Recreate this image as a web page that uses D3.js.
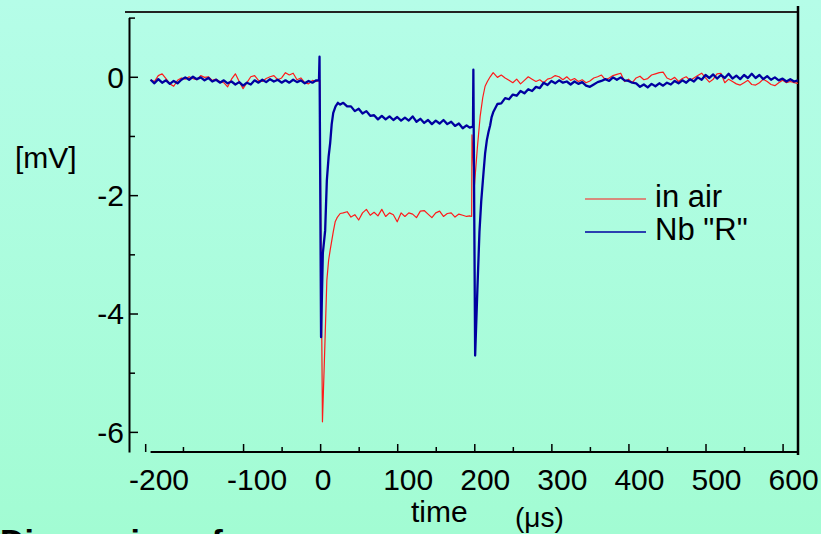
<!DOCTYPE html>
<html lang="en">
<head>
<meta charset="utf-8">
<title>Pulse response: in air vs Nb "R"</title>
<script src="https://cdn.jsdelivr.net/npm/d3@7"></script>
<style>
  body { margin: 0; }
  svg { display: block; font-family: "Liberation Sans", Arial, sans-serif; }
</style>
</head>
<body>
<script>

// sampling of the flat parts (µs)
var step = 5;
var preStart = -220, midStart = 30, postStart = 230;

// "in air" (mV)
var airPre = [-0.05, -0.08, 0.02, 0.05, -0.03, -0.12, -0.16, -0.06, -0.02, -0.04,
              0.00, -0.03, -0.05, 0.02, -0.01, 0.00, -0.06, -0.04, -0.08, -0.10,
              -0.17, -0.04, 0.05, -0.08, -0.20, -0.10, 0.00, 0.02, -0.06, -0.08,
              -0.03, 0.00, 0.02, -0.05, -0.02, 0.07, 0.03, 0.06, -0.05, -0.02,
              -0.10, -0.12, -0.06, -0.08];
var airPulse1T  = [-0.5, 3, 5.5, 8.7, 11, 13, 17, 19.5, 22, 26];
var airPulse1Mv = [-0.06, -5.83, -4.8, -3.44, -3.1, -2.93, -2.62, -2.45, -2.38, -2.31];
var airMid = [-2.30, -2.28, -2.37, -2.33, -2.42, -2.30, -2.24, -2.34, -2.29, -2.35,
              -2.24, -2.36, -2.30, -2.33, -2.45, -2.30, -2.36, -2.30, -2.32, -2.38,
              -2.27, -2.26, -2.32, -2.38, -2.30, -2.27, -2.36, -2.31, -2.30, -2.37,
              -2.32, -2.34, -2.36];
var airPulse2T  = [194, 196.6, 197.0, 200.2, 204, 207.6, 211, 214, 217, 220.6, 224.5];
var airPulse2Mv = [-2.35, -2.36, -0.98, -1.83, -1.2, -0.67, -0.35, -0.16, -0.08, 0.0, 0.07];
var airPost = [-0.01, 0.03, -0.02, -0.06, -0.10, -0.04, -0.12, -0.06, 0.00, -0.04,
               -0.08, -0.05, -0.10, -0.04, -0.02, 0.02, 0.00, -0.05, 0.00, -0.06,
               -0.03, -0.08, -0.05, -0.10, -0.07, -0.02, 0.00, 0.03, -0.05, -0.02,
               0.02, 0.04, 0.06, -0.08, -0.04, -0.10, -0.02, 0.01, -0.05, -0.03,
               0.03, 0.05, 0.07, 0.08, -0.02, -0.05, -0.01, -0.08, -0.03, 0.00,
               -0.06, -0.02, 0.02, 0.06, -0.02, -0.09, -0.04, 0.05, 0.06, -0.10,
               -0.04, -0.08, -0.12, -0.14, -0.10, -0.06, -0.13, -0.14, -0.10, -0.04,
               -0.08, -0.13, -0.15, -0.10, -0.06, -0.10, -0.08, -0.10, -0.11];

// Nb "R" (mV)
var nbPre = [-0.05, -0.11, -0.04, -0.10, -0.06, -0.12, -0.07, -0.11, -0.05, -0.01,
             -0.05, 0.00, -0.04, -0.01, -0.06, -0.02, -0.08, -0.05, -0.10, -0.06,
             -0.11, -0.08, -0.13, -0.09, -0.15, -0.10, -0.13, -0.06, -0.10, -0.05,
             -0.09, -0.04, -0.08, -0.05, -0.10, -0.06, -0.10, -0.05, -0.09, -0.06,
             -0.11, -0.07, -0.10, -0.06];
var nbPulse1T  = [-1.5, -0.8, 1.2, 3.5, 6.5, 8.7, 11, 13, 15, 17, 20, 23, 26];
var nbPulse1Mv = [-0.06, 0.34, -4.4, -2.98, -2.6, -1.75, -1.35, -1.12, -0.8, -0.61, -0.5, -0.44, -0.47];
var nbMid = [-0.44, -0.50, -0.50, -0.58, -0.54, -0.62, -0.58, -0.66, -0.65, -0.72,
             -0.66, -0.72, -0.67, -0.73, -0.68, -0.74, -0.69, -0.74, -0.67, -0.76,
             -0.71, -0.78, -0.73, -0.80, -0.74, -0.79, -0.73, -0.80, -0.76, -0.83,
             -0.79, -0.87, -0.82];
var nbPulse2T  = [194, 198.3, 198.8, 201.1, 204, 206.7, 209, 211.9, 214, 216.3, 218.5, 220.6, 222.5, 224.5];
var nbPulse2Mv = [-0.86, -0.84, 0.12, -4.71, -3.6, -2.62, -2.1, -1.63, -1.3, -1.07, -0.93, -0.82, -0.68, -0.6];
var nbPost = [-0.46, -0.45, -0.36, -0.38, -0.30, -0.32, -0.24, -0.28, -0.21, -0.24,
              -0.17, -0.19, -0.10, -0.14, -0.07, -0.11, -0.06, -0.10, -0.08, -0.13,
              -0.08, -0.12, -0.09, -0.15, -0.17, -0.13, -0.09, -0.07, -0.04, -0.07,
              -0.01, -0.05, -0.01, -0.06, -0.07, -0.10, -0.11, -0.17, -0.13, -0.18,
              -0.12, -0.16, -0.11, -0.15, -0.10, -0.13, -0.07, -0.11, -0.06, -0.10,
              -0.04, -0.08, -0.01, -0.05, 0.03, -0.02, 0.04, -0.03, 0.03, -0.02,
              0.05, -0.03, 0.02, -0.04, 0.03, -0.02, 0.05, -0.02, 0.03, -0.04,
              0.01, -0.05, -0.01, -0.06, -0.03, -0.08, -0.04, -0.08, -0.06];

// axis ticks and labels
var xMajor = [-227, -100, 0, 100, 200, 300, 400, 500, 600];
var xMinor = [-178, -50, 50, 150, 250, 350, 450, 550];
var xLabels = [-200, -100, 0, 100, 200, 300, 400, 500, 600];
var yMajor = [-6, -4, -2, 0];
var yMinor = [-5, -3, -1, 1];

var w = 821, h = 534;

var x = d3.scaleLinear().domain([-248, 620]).range([129, 798]);
var y = d3.scaleLinear().domain([-6.34, 1]).range([452, 17.6]);

function buildSeries(pre, p1T, p1V, mid, p2T, p2V, post) {
    var pts = [];
    pre.forEach(function(v, i) { pts.push({t: preStart + i * step, v: v}); });
    p1T.forEach(function(t, i) { pts.push({t: t, v: p1V[i]}); });
    mid.forEach(function(v, i) { pts.push({t: midStart + i * step, v: v}); });
    p2T.forEach(function(t, i) { pts.push({t: t, v: p2V[i]}); });
    post.forEach(function(v, i) { pts.push({t: postStart + i * step, v: v}); });
    return pts;
}

var airData = buildSeries(airPre, airPulse1T, airPulse1Mv, airMid, airPulse2T, airPulse2Mv, airPost);
var nbData = buildSeries(nbPre, nbPulse1T, nbPulse1Mv, nbMid, nbPulse2T, nbPulse2Mv, nbPost);

var svg = d3.select("body").append("svg")
    .attr("width", w)
    .attr("height", h);

// background gradient
var grad = svg.append("defs").append("linearGradient")
    .attr("id", "bg")
    .attr("x1", 0).attr("y1", 0).attr("x2", 0).attr("y2", 1);
grad.append("stop").attr("offset", "0%").attr("stop-color", "#b5fde8");
grad.append("stop").attr("offset", "100%").attr("stop-color", "#a2fcd3");
svg.append("rect").attr("width", w).attr("height", h).attr("fill", "url(#bg)");

// frame pieces
svg.append("line")
    .attr("x1", 125).attr("x2", x(620)).attr("y1", 12).attr("y2", 12)
    .attr("stroke", "#222").attr("stroke-width", 2);
svg.append("line")
    .attr("x1", x(620)).attr("x2", x(620)).attr("y1", 6).attr("y2", 455)
    .attr("stroke", "#000").attr("stroke-width", 2.5);

// x axis
svg.append("line")
    .attr("x1", x(-220)).attr("x2", x(620)).attr("y1", 452).attr("y2", 452)
    .attr("stroke", "#000").attr("stroke-width", 2);

svg.append("g")
    .attr("transform", "translate(0,452)")
    .call(d3.axisBottom(x).tickValues(xMajor).tickSizeInner(-8).tickSizeOuter(0).tickFormat(""))
    .call(function(g) { g.select(".domain").remove(); })
    .selectAll("line").attr("stroke-width", 1.5);

svg.append("g")
    .attr("transform", "translate(0,452)")
    .call(d3.axisBottom(x).tickValues(xMinor).tickSizeInner(-5).tickSizeOuter(0).tickFormat(""))
    .call(function(g) { g.select(".domain").remove(); })
    .selectAll("line").attr("stroke-width", 1.5);

var labelShift = function(d) {
    if (d === -200) return -7;
    if (d === -100) return 14;
    if (d === 0) return 3;
    return 11;
};

svg.selectAll("text.xlab")
   .data(xLabels)
   .enter()
   .append("text")
   .attr("class", "xlab")
   .attr("x", function(d) { return x(d) + labelShift(d); })
   .attr("y", 490)
   .attr("text-anchor", "middle")
   .attr("font-size", "30px")
   .text(function(d) { return d; });

// y axis
var yAxisG = svg.append("g")
    .attr("transform", "translate(129,0)")
    .call(d3.axisLeft(y).tickValues(yMajor).tickSizeInner(-9).tickSizeOuter(0).tickFormat(""));
yAxisG.select(".domain").attr("stroke-width", 2);
yAxisG.selectAll(".tick line").attr("stroke-width", 1.5);

svg.append("g")
    .attr("transform", "translate(129,0)")
    .call(d3.axisLeft(y).tickValues(yMinor).tickSizeInner(-6).tickSizeOuter(0).tickFormat(""))
    .call(function(g) { g.select(".domain").remove(); })
    .selectAll("line").attr("stroke-width", 1.5);

svg.selectAll("text.ylab")
   .data(yMajor)
   .enter()
   .append("text")
   .attr("class", "ylab")
   .attr("x", 124)
   .attr("y", function(d) { return y(d); })
   .attr("dy", "0.36em")
   .attr("text-anchor", "end")
   .attr("font-size", "30px")
   .text(function(d) { return d; });

// axis titles
svg.append("text").attr("x", 15).attr("y", 168).attr("font-size", "30px").text("[mV]");
svg.append("text").attr("x", 411).attr("y", 522).attr("font-size", "30px").text("time");
svg.append("text").attr("x", 515).attr("y", 527).attr("font-size", "28px").text("(\u03bcs)");

// traces
var line = d3.line()
    .x(function(d) { return x(d.t); })
    .y(function(d) { return y(d.v); });

svg.append("path")
   .datum(airData)
   .attr("d", line)
   .attr("fill", "none")
   .attr("stroke", "#ff1a1a")
   .attr("stroke-width", 1.2)
   .attr("stroke-linejoin", "round");

svg.append("path")
   .datum(nbData)
   .attr("d", line)
   .attr("fill", "none")
   .attr("stroke", "#0000a0")
   .attr("stroke-width", 2.3)
   .attr("stroke-linejoin", "round");

// legend
var legendItems = [
    {name: "in air", color: "#ff1a1a", width: 1.2},
    {name: "Nb \"R\"", color: "#0000a0", width: 1.5}
];
var leg = svg.selectAll("g.legend")
    .data(legendItems)
    .enter()
    .append("g")
    .attr("class", "legend")
    .attr("transform", function(d, i) { return "translate(0," + (i * 33) + ")"; });
leg.append("line")
   .attr("x1", 585).attr("x2", 646).attr("y1", 199).attr("y2", 199)
   .attr("stroke", function(d) { return d.color; })
   .attr("stroke-width", function(d) { return d.width; });
leg.append("text")
   .attr("x", 655).attr("y", 207)
   .attr("font-size", "31px")
   .text(function(d) { return d.name; });

// slide text cut off at the bottom, as in the original
svg.append("text")
   .attr("x", 0).attr("y", 553)
   .attr("font-size", "34px")
   .attr("font-weight", "bold")
   .text("Discussion of");

</script>
</body>
</html>
